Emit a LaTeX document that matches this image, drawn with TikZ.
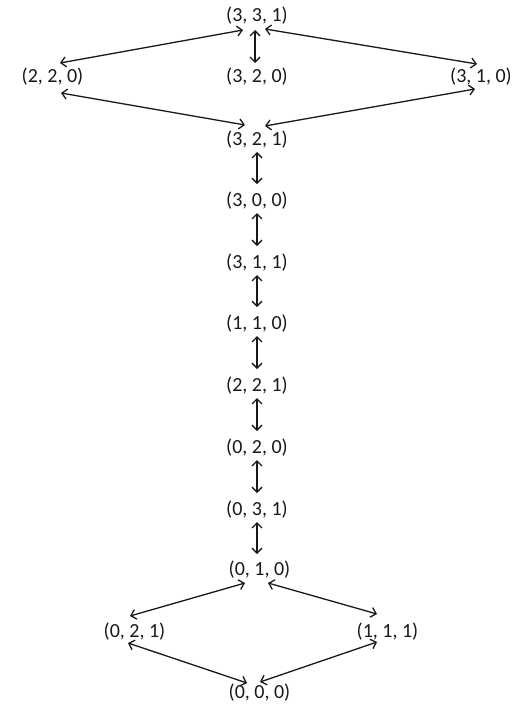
\documentclass[tikz,border=0pt]{standalone}
\usepackage{fontspec}
\setmainfont{Carlito}
\usetikzlibrary{arrows.meta}
\begin{document}
\begin{tikzpicture}[x=1pt,y=-1pt,
  lbl/.style={font=\fontsize{20}{22}\selectfont, inner sep=0pt, text=black!90},
  arr/.style={{Straight Barb[length=5pt,width=10pt]}-{Straight Barb[length=5pt,width=10pt]}, line width=1.3pt, black!90}]
\fill[white] (0,0) rectangle (527,707);
\useasboundingbox (0,0) rectangle (527,707);
\node[lbl] (n331) at (257,16) {(3, 3, 1)};
\node[lbl] (n220) at (52.5,77) {(2, 2, 0)};
\node[lbl] (n320) at (257,77) {(3, 2, 0)};
\node[lbl] (n310) at (481,77) {(3, 1, 0)};
\node[lbl] (n321) at (257,140) {(3, 2, 1)};
\node[lbl] (n300) at (257,201) {(3, 0, 0)};
\node[lbl] (n311) at (257,263) {(3, 1, 1)};
\node[lbl] (n110) at (257,324) {(1, 1, 0)};
\node[lbl] (n221) at (257,386) {(2, 2, 1)};
\node[lbl] (n020) at (257,448) {(0, 2, 0)};
\node[lbl] (n031) at (257,510) {(0, 3, 1)};
\node[lbl] (n010) at (259.5,570) {(0, 1, 0)};
\node[lbl] (n021) at (134.5,632) {(0, 2, 1)};
\node[lbl] (n111) at (387.5,632) {(1, 1, 1)};
\node[lbl] (n000) at (259.5,693) {(0, 0, 0)};
% top diamond
\draw[arr] ([shift={(-14,14)}]n331.center) -- ([shift={(7.5,-14)}]n220.center);
\draw[arr] ([shift={(8,13)}]n331.center) -- ([shift={(-4,-13)}]n310.center);
\draw[arr] ([shift={(-2,14)}]n331.center) -- ([shift={(-2,-14)}]n320.center);
\draw[arr] ([shift={(8.5,16)}]n220.center) -- ([shift={(-12,-15)}]n321.center);
\draw[arr] ([shift={(-6,12)}]n310.center) -- ([shift={(8,-14)}]n321.center);
% chain
\foreach \a/\b in {n321/n300,n300/n311,n311/n110,n110/n221,n221/n020,n020/n031}
  \draw[arr] ([shift={(0,12)}]\a.center) -- ([shift={(0,-17)}]\b.center);
\draw[arr] ([shift={(0,12)}]n031.center) -- ([shift={(-2.5,-16)}]n010.center);
% bottom diamond
\draw[arr] ([shift={(-14.5,13)}]n010.center) -- ([shift={(-4.5,-16)}]n021.center);
\draw[arr] ([shift={(8.5,13)}]n010.center) -- ([shift={(-10.5,-18)}]n111.center);
\draw[arr] ([shift={(-6.5,11)}]n021.center) -- ([shift={(-12.5,-10)}]n000.center);
\draw[arr] ([shift={(-10.5,10)}]n111.center) -- ([shift={(0.5,-11)}]n000.center);
\end{tikzpicture}
\end{document}
